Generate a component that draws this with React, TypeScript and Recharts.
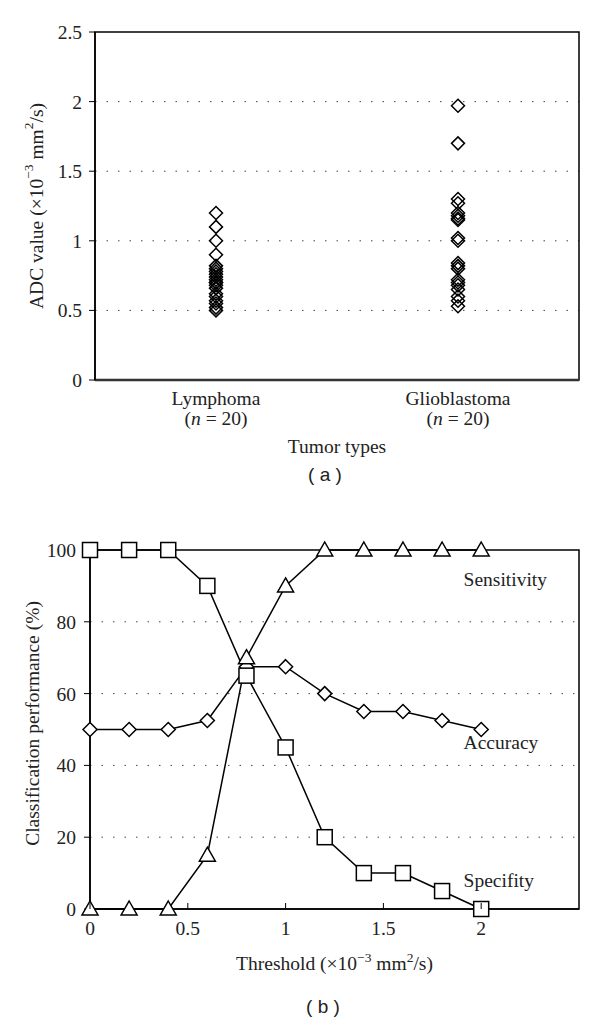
import React from "react";
import {
  ScatterChart,
  Scatter,
  LineChart,
  Line,
  XAxis,
  YAxis,
  CartesianGrid,
  ReferenceArea,
  ReferenceDot,
  Label,
} from "recharts";

// panel (a): ADC values per tumor type
const tumorTypes = ["Lymphoma", "Glioblastoma"];
const lymphomaAdc = [1.2, 1.1, 1.0, 0.9, 0.82, 0.8, 0.78, 0.76, 0.74, 0.72, 0.7, 0.7, 0.68, 0.66, 0.62, 0.6, 0.57, 0.55, 0.52, 0.5];
const glioblastomaAdc = [1.97, 1.7, 1.3, 1.27, 1.2, 1.18, 1.16, 1.15, 1.02, 1.0, 0.84, 0.82, 0.8, 0.72, 0.7, 0.68, 0.65, 0.6, 0.57, 0.53];
const adcTicks = [0, 0.5, 1, 1.5, 2, 2.5];

// panel (b): classification performance vs threshold
const thresholds = [0, 0.2, 0.4, 0.6, 0.8, 1.0, 1.2, 1.4, 1.6, 1.8, 2.0];
const sensitivity = [0, 0, 0, 15, 70, 90, 100, 100, 100, 100, 100];
const specificity = [100, 100, 100, 90, 65, 45, 20, 10, 10, 5, 0];
const accuracy = [50, 50, 50, 52.5, 67.5, 67.5, 60, 55, 55, 52.5, 50];
const thresholdTicks = [0, 0.5, 1, 1.5, 2];
const percentTicks = [0, 20, 40, 60, 80, 100];

const SERIF = "'Liberation Serif', 'DejaVu Serif', serif";
const FS = 19.5;
const SANS = "'Liberation Sans', Arial, sans-serif";

const lymphomaData = lymphomaAdc.map((v) => ({ x: 0.5, y: v }));
const glioData = glioblastomaAdc.map((v) => ({ x: 1.5, y: v }));
const perfData = thresholds.map((t, i) => ({
  t,
  sens: sensitivity[i],
  spec: specificity[i],
  acc: accuracy[i],
}));

const Diamond = ({ cx, cy, r = 6.5 }: any) => (
  <path
    d={`M${cx},${cy - r}L${cx + r},${cy}L${cx},${cy + r}L${cx - r},${cy}Z`}
    fill="#fff"
    fillOpacity={0}
    stroke="#000"
    strokeWidth={1.5}
  />
);

const DiamondDot = (props: any) => {
  const { cx, cy, index } = props;
  return (
    <path
      key={`d${index}`}
      d={`M${cx},${cy - 7}L${cx + 7},${cy}L${cx},${cy + 7}L${cx - 7},${cy}Z`}
      fill="#fff"
      stroke="#000"
      strokeWidth={1.5}
    />
  );
};

const SquareDot = (props: any) => {
  const { cx, cy, index } = props;
  return (
    <rect key={`s${index}`} x={cx - 7.5} y={cy - 7.5} width={15} height={15} fill="#fff" stroke="#000" strokeWidth={1.5} />
  );
};

const TriangleDot = (props: any) => {
  const { cx, cy, index } = props;
  return (
    <path
      key={`t${index}`}
      d={`M${cx},${cy - 8}L${cx + 8},${cy + 6}L${cx - 8},${cy + 6}Z`}
      fill="#fff"
      stroke="#000"
      strokeWidth={1.5}
    />
  );
};

const Units = ({ prefix }: { prefix: string }) => (
  <>
    <tspan>{prefix} (×10</tspan>
    <tspan dy={-8} fontSize={13.5}>−3</tspan>
    <tspan dy={8}> mm</tspan>
    <tspan dy={-8} fontSize={13.5}>2</tspan>
    <tspan dy={8}>/s)</tspan>
  </>
);

const TumorTick = ({ x, y, payload }: any) => {
  const name = payload.value < 1 ? tumorTypes[0] : tumorTypes[1];
  return (
    <g>
      <text x={x} y={y + 25} textAnchor="middle" fontFamily={SERIF} fontSize={FS} fill="#222">
        {name}
      </text>
      <text x={x} y={y + 45} textAnchor="middle" fontFamily={SERIF} fontSize={FS} fill="#222">
        (<tspan fontStyle="italic">n</tspan> = 20)
      </text>
    </g>
  );
};

const ThresholdTick = ({ x, y, payload }: any) => (
  <g>
    <line x1={x} x2={x} y1={y} y2={y - 6} stroke="#000" strokeWidth={1} />
    <text x={x} y={y + 26} textAnchor="middle" fontFamily={SERIF} fontSize={FS} fill="#222">
      {payload.value}
    </text>
  </g>
);

const curveLabels = [
  { text: "Sensitivity", x: 1.91, y: 90 },
  { text: "Accuracy", x: 1.91, y: 44.5 },
  { text: "Specifity", x: 1.91, y: 6 },
];

export default function App() {
  return (
    <div style={{ position: "absolute", left: 0, top: 0, width: 600, height: 1026, background: "#fff" }}>
      <div style={{ position: "absolute", left: 0, top: 0 }}>
        <ScatterChart width={600} height={490} margin={{ top: 32, right: 21, bottom: 80, left: 35 }}>
          <CartesianGrid
            vertical={false}
            stroke="#444"
            strokeDasharray="1.5 10"
            horizontalValues={[0.5, 1, 1.5, 2]}
          />
          <XAxis
            type="number"
            dataKey="x"
            domain={[0, 2]}
            ticks={[0.5, 1.5]}
            tick={<TumorTick />}
            tickLine={false}
            tickSize={0}
            tickMargin={0}
            height={30}
            axisLine={{ stroke: "#333", strokeWidth: 2.5 }}
          >
            <Label
              content={({ viewBox }: any) => (
                <text
                  x={viewBox.x + viewBox.width / 2}
                  y={453}
                  textAnchor="middle"
                  fontFamily={SERIF}
                  fontSize={FS}
                  fill="#222"
                >
                  Tumor types
                </text>
              )}
            />
          </XAxis>
          <YAxis
            type="number"
            dataKey="y"
            domain={[0, 2.5]}
            ticks={adcTicks}
            width={60}
            tickSize={6}
            tickMargin={7}
            tick={{ fontFamily: SERIF, fontSize: FS, fill: "#222" }}
            tickLine={{ stroke: "#000" }}
            axisLine={{ stroke: "#000", strokeWidth: 1.5 }}
          >
            <Label
              content={({ viewBox }: any) => {
                const cy = viewBox.y + viewBox.height / 2;
                return (
                  <text
                    x={36}
                    y={cy}
                    transform={`rotate(-90, 36, ${cy})`}
                    textAnchor="middle"
                    dominantBaseline="central"
                    fontFamily={SERIF}
                    fontSize={FS}
                    fill="#222"
                  >
                    <Units prefix="ADC value" />
                  </text>
                );
              }}
            />
          </YAxis>
          <ReferenceArea x1={0} x2={2} y1={0} y2={2.5} fill="none" stroke="#000" strokeWidth={1.5} />
          <Scatter data={lymphomaData} shape={<Diamond />} isAnimationActive={false} />
          <Scatter data={glioData} shape={<Diamond />} isAnimationActive={false} />
        </ScatterChart>
      </div>
      <div
        style={{
          position: "absolute",
          left: 0,
          top: 464,
          width: 600,
          textAlign: "center",
          fontFamily: SANS,
          fontSize: 19,
          color: "#222",
          paddingLeft: 50,
          boxSizing: "border-box",
        }}
      >
        ( a )
      </div>

      <div style={{ position: "absolute", left: 0, top: 490 }}>
        <LineChart width={600} height={536} data={perfData} margin={{ top: 60, right: 21, bottom: 97, left: 30 }}>
          <CartesianGrid
            vertical={false}
            stroke="#444"
            strokeDasharray="1.5 10"
            horizontalValues={[20, 40, 60, 80]}
          />
          <XAxis
            type="number"
            dataKey="t"
            domain={[0, 2.5]}
            ticks={thresholdTicks}
            tick={<ThresholdTick />}
            tickLine={false}
            tickSize={0}
            tickMargin={0}
            height={20}
            axisLine={{ stroke: "#000", strokeWidth: 1.5 }}
          >
            <Label
              content={({ viewBox }: any) => (
                <text
                  x={viewBox.x + viewBox.width / 2}
                  y={970 - 490}
                  textAnchor="middle"
                  fontFamily={SERIF}
                  fontSize={FS}
                  fill="#222"
                >
                  <Units prefix="Threshold" />
                </text>
              )}
            />
          </XAxis>
          <YAxis
            type="number"
            domain={[0, 100]}
            ticks={percentTicks}
            width={60}
            tickSize={6}
            tickMargin={8}
            tick={{ fontFamily: SERIF, fontSize: FS, fill: "#222" }}
            tickLine={{ stroke: "#000" }}
            axisLine={{ stroke: "#000", strokeWidth: 1.5 }}
          >
            <Label
              content={({ viewBox }: any) => {
                const cy = viewBox.y + viewBox.height / 2 - 6;
                return (
                  <text
                    x={32}
                    y={cy}
                    transform={`rotate(-90, 32, ${cy})`}
                    textAnchor="middle"
                    dominantBaseline="central"
                    fontFamily={SERIF}
                    fontSize={FS}
                    fill="#222"
                  >
                    Classification performance (%)
                  </text>
                );
              }}
            />
          </YAxis>
          <ReferenceArea x1={0} x2={2.5} y1={0} y2={100} fill="none" stroke="#000" strokeWidth={1.5} />
          <Line dataKey="acc" stroke="#000" strokeWidth={1.5} dot={DiamondDot} isAnimationActive={false} />
          <Line dataKey="sens" stroke="#000" strokeWidth={1.5} dot={TriangleDot} isAnimationActive={false} />
          <Line dataKey="spec" stroke="#000" strokeWidth={1.5} dot={SquareDot} isAnimationActive={false} />
          {curveLabels.map((c) => (
            <ReferenceDot
              key={c.text}
              x={c.x}
              y={c.y}
              r={0}
              shape={(p: any) => (
                <text x={p.cx} y={p.cy} fontFamily={SERIF} fontSize={FS} fill="#222">
                  {c.text}
                </text>
              )}
            />
          ))}
        </LineChart>
      </div>
      <div
        style={{
          position: "absolute",
          left: 0,
          top: 996,
          width: 600,
          textAlign: "center",
          fontFamily: SANS,
          fontSize: 19,
          color: "#222",
          paddingLeft: 46,
          boxSizing: "border-box",
        }}
      >
        ( b )
      </div>
    </div>
  );
}
